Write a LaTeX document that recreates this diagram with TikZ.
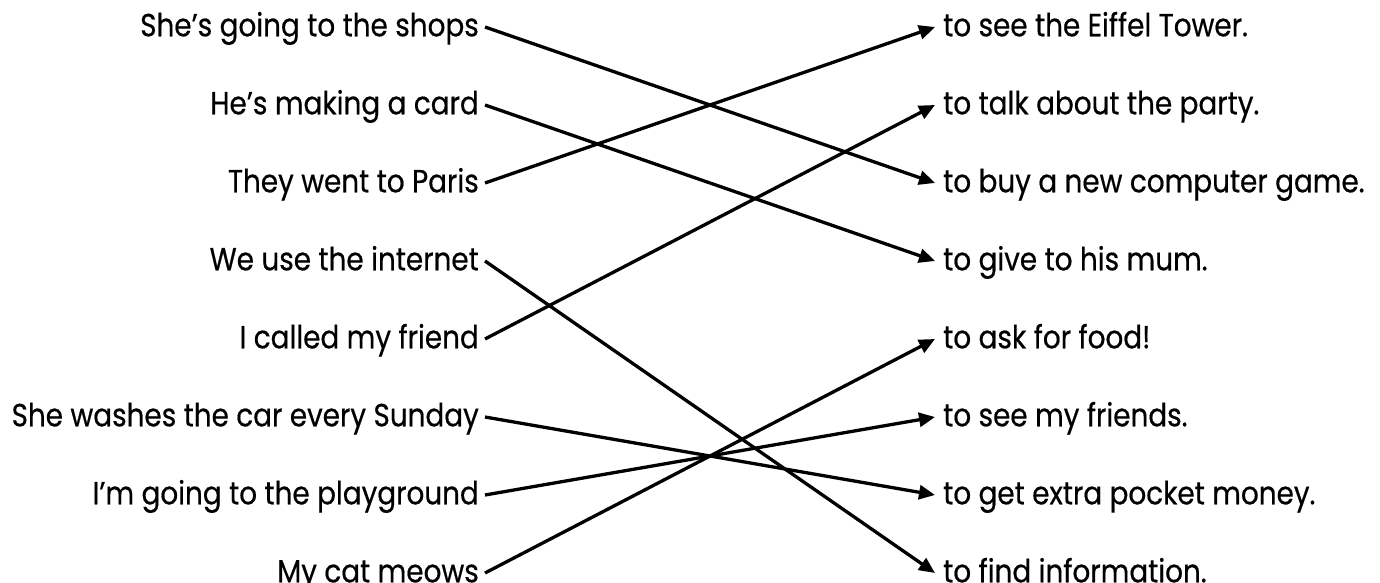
\documentclass[tikz,border=0pt]{standalone}
\usepackage{fontspec}
\setmainfont{Poppins}[FakeStretch=0.87, FakeBold=0.5]
\usepackage{tikz}
\usetikzlibrary{arrows.meta}

\begin{document}
\begin{tikzpicture}[x=1pt, y=-1pt,
  lefttext/.style={anchor=east, inner xsep=6pt, inner ysep=0pt, font=\fontsize{32}{34}\selectfont, text height=24pt, text depth=5.4pt},
  righttext/.style={anchor=west, inner xsep=8pt, inner ysep=0pt, font=\fontsize{32}{34}\selectfont, text height=24pt, text depth=5.4pt},
  link/.style={line width=3.3pt, -{Triangle[length=16pt, width=14pt]}}]
  \useasboundingbox (0,0) rectangle (1380,583);
  \node[lefttext] (l1) at (485,27) {She’s going to the shops};
  \node[lefttext] (l2) at (485,105) {He’s making a card};
  \node[lefttext] (l3) at (485,183) {They went to Paris};
  \node[lefttext] (l4) at (485,261) {We use the internet};
  \node[lefttext] (l5) at (485,339) {I called my friend};
  \node[lefttext] (l6) at (485,417) {She washes the car every Sunday};
  \node[lefttext] (l7) at (485,495) {I’m going to the playground};
  \node[lefttext] (l8) at (485,573) {My cat meows};
  \node[righttext] (r1) at (935,27) {to see the Eiffel Tower.};
  \node[righttext] (r2) at (935,105) {to talk about the party.};
  \node[righttext] (r3) at (935,183) {to buy a new computer game.};
  \node[righttext] (r4) at (935,261) {to give to his mum.};
  \node[righttext] (r5) at (935,339) {to ask for food!};
  \node[righttext] (r6) at (935,417) {to see my friends.};
  \node[righttext] (r7) at (935,495) {to get extra pocket money.};
  \node[righttext] (r8) at (935,573) {to find information.};
  \draw[link] (l1.east) -- (r3.west);
  \draw[link] (l2.east) -- (r4.west);
  \draw[link] (l3.east) -- (r1.west);
  \draw[link] (l4.east) -- (r8.west);
  \draw[link] (l5.east) -- (r2.west);
  \draw[link] (l6.east) -- (r7.west);
  \draw[link] (l7.east) -- (r6.west);
  \draw[link] (l8.east) -- (r5.west);
\end{tikzpicture}
\end{document}
